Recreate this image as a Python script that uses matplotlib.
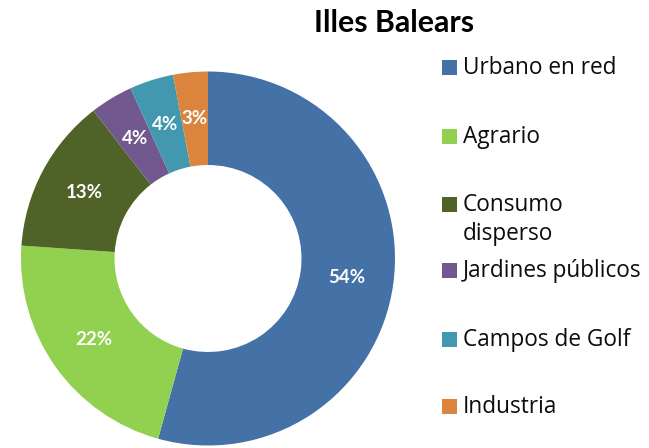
import matplotlib
matplotlib.use("Agg")
import matplotlib.pyplot as plt
from matplotlib.patches import Rectangle

title = "Illes Balears"
labels = ["Urbano en red", "Agrario", "Consumo\ndisperso", "Jardines públicos",
          "Campos de Golf", "Industria"]
values = [54.3, 21.8, 13.4, 3.7, 3.8, 3.0]
colors = ["#4471A6", "#92D050", "#4F6228", "#71588F", "#4198AF", "#DB843D"]

W, H = 649, 448
fig = plt.figure(figsize=(W / 100, H / 100), dpi=100)
plt.rcParams["font.family"] = ["Lato", "DejaVu Sans"]

# donut: centre (208, 258.5) px, outer radius 187 px
cx, cy, r = 208, 258.5, 187
ax = fig.add_axes([(cx - r) / W, (H - cy - r) / H, 2 * r / W, 2 * r / H])
wedges, texts, autotexts = ax.pie(
    values, colors=colors, startangle=90, counterclock=False, radius=1,
    wedgeprops=dict(width=0.5, edgecolor="none"),
    autopct="%.0f%%", pctdistance=0.75,
    textprops=dict(color="white", fontsize=13.5, fontweight="bold"))
ax.set_xlim(-1, 1)
ax.set_ylim(-1, 1)
ax.set_aspect("equal")
ax.axis("off")

fig.text(394 / W, 1 - 32.3 / H, title, ha="center", va="baseline",
         fontsize=21.8, fontweight="bold")

# legend drawn by hand, one baseline per row (px from top)
baselines = [74, 142.7, 210.7, 277, 346, 413]
line_gap = 29.3
for lab, col, b in zip(labels, colors, baselines):
    fig.patches.append(Rectangle((442 / W, 1 - (b + 1) / H), 14.5 / W, 15 / H,
                                 transform=fig.transFigure, facecolor=col,
                                 edgecolor="none"))
    for i, line in enumerate(lab.split("\n")):
        fig.text(463 / W, 1 - (b + i * line_gap) / H, line, ha="left",
                 va="baseline", fontsize=16.3, color="#0d0d0d",
                 family=["Open Sans", "DejaVu Sans"])

fig.savefig("out.png", dpi=100)
